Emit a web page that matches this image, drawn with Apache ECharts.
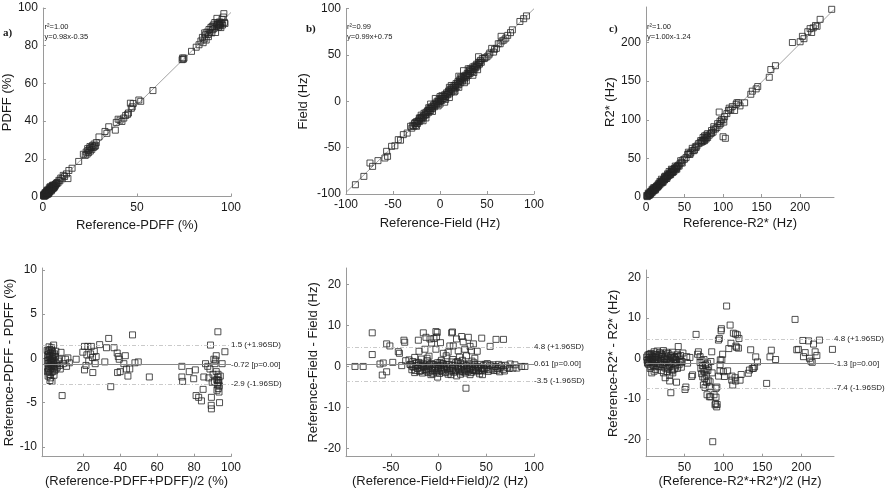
<!DOCTYPE html>
<html>
<head>
<meta charset="utf-8">
<script src="https://cdn.jsdelivr.net/npm/echarts@6/dist/echarts.min.js"></script>
<style>html,body{margin:0;padding:0;background:#fff;}#c{width:888px;height:496px;}</style>
</head>
<body>
<div id="c"></div>
<script>
// ---------- DATA ----------
// a) PDFF correlation: [Reference-PDFF, PDFF]
const pdffCorr = [
[0.5,0.3],[0.8,0.6],[1.0,0.9],[1.2,1.4],[1.5,1.0],[1.6,1.8],[1.8,1.3],[2.0,2.2],[2.1,1.5],[2.3,2.8],[2.5,1.9],[2.6,2.4],[2.8,3.1],[3.0,2.2],[3.1,2.9],[3.3,3.6],[3.5,2.7],[3.6,3.3],[3.8,4.1],[4.0,3.2],[4.1,3.8],[4.3,4.5],[4.5,3.6],[4.7,4.4],[4.9,5.0],[5.1,4.2],[5.3,4.9],[5.5,5.6],[5.8,4.9],[6.0,5.6],[6.3,6.2],[6.6,5.8],[0.6,1.2],[1.3,0.5],[2.2,3.3],[3.4,4.6],[1.9,0.9],[2.9,1.6],[4.4,2.9],[0.4,0.9],[1.1,2.0],[2.7,1.2],[3.9,5.2],[5.0,5.9],[5.6,4.4],
[0.3,0.5],[0.7,0.2],[1.4,1.9],[1.7,1.1],[2.4,2.0],[2.0,2.7],[3.2,2.5],[3.7,3.0],[4.2,4.9],[4.6,4.0],[5.2,5.3],[5.7,5.2],[6.2,5.0],[6.8,6.6],[7.2,6.9],[1.0,0.3],[2.6,3.5],[3.3,2.0],[4.8,3.7],[5.4,6.0],
[7.0,6.5],[7.5,7.4],[8.0,7.2],[8.5,8.6],[9.0,8.3],[9.5,9.8],[10.2,9.4],[10.8,11.2],[11.5,10.6],[12.5,12.0],[13.3,9.5],[13.8,13.8],[15.5,15.0],[19.0,18.6],[21.5,22.4],
[22.5,21.8],[23.0,23.6],[23.5,22.5],[24.0,24.4],[24.3,23.3],[24.8,25.2],[25.2,24.1],[25.6,26.0],[26.0,25.0],[26.3,27.0],[26.8,26.0],[27.2,27.8],[27.5,26.5],[28.0,27.0],[28.4,28.6],[25.0,26.5],[23.8,25.4],
[29.8,31.6],[33.0,34.5],[34.0,33.5],[35.0,37.0],[38.5,35.2],[39.0,39.3],[40.0,41.0],[41.0,40.5],[42.0,39.8],[43.0,41.6],[44.0,43.0],[45.0,43.6],[45.5,44.3],[46.5,49.5],[47.0,46.8],[47.5,47.6],[48.0,49.3],[51.0,51.2],[52.0,50.5],[58.5,56.2],
[74.0,72.6],[74.3,73.5],[74.6,72.8],[75.0,73.4],[79.0,77.0],[81.5,79.2],[83.0,80.5],
[84.0,82.5],[84.8,84.4],[85.2,81.6],[85.8,83.6],[86.4,85.8],[86.8,83.0],[87.2,87.2],[87.8,86.0],[88.3,88.6],[88.8,87.0],[89.3,89.7],[89.8,86.8],[90.3,88.5],[90.6,91.0],[91.0,89.2],[91.4,92.3],[91.8,87.0],[92.2,90.4],[92.6,91.5],[93.0,92.0],[93.3,89.8],[93.6,91.2],[93.9,92.6],[94.2,90.5],[94.5,91.8],[94.8,92.2],[95.2,94.0],[95.5,91.0],[95.9,95.2],[96.2,97.0],[96.5,92.4],[96.8,91.8],[92.5,94.5],[90.0,90.2],[88.0,84.8],[86.0,86.8],[93.8,90.8],[94.6,89.6],[92.9,91.1]
];
// a) PDFF Bland-Altman: [mean, difference]
const pdffBA = [
[0.6,-0.3],[0.8,0.4],[0.9,-1.0],[1.0,0.1],[1.1,-0.6],[1.2,0.8],[1.3,-1.4],[1.4,-0.2],[1.5,0.5],[1.6,-0.9],[1.7,-1.8],[1.8,0.2],[1.9,-0.5],[2.0,1.0],[2.1,-1.2],[2.2,-0.1],[2.3,-2.2],[2.4,0.6],[2.5,-0.7],[2.6,-1.6],[2.7,0.3],[2.8,-0.4],[2.9,1.2],[3.0,-1.0],[3.1,-2.6],[3.2,0.0],[3.3,-0.8],[3.4,0.7],[3.5,-1.5],[3.6,-0.3],[3.7,0.4],[3.8,-1.1],[3.9,-0.6],[4.0,1.5],[4.1,-0.2],[4.2,-1.9],[4.4,0.5],[4.6,-0.9],[4.8,-0.4],[5.0,0.2],[5.3,-1.2],[5.6,-0.6],[1.0,-2.0],[1.5,1.3],[2.0,-2.5],[0.7,-1.5],[3.0,0.9],[6.0,-1.0],[6.5,-0.3],[0.5,0.9],[1.2,-1.2],[2.5,-0.3],[3.5,0.2],[4.5,-1.4],[5.2,0.8],
[6.8,-0.1],[7.2,-0.8],[8.0,0.68],[7.6,-1.2],[8.6,-4.2],[9.2,-0.6],[10.4,-0.1],[11.0,-0.9],[11.7,0.05],[12.5,-0.5],[16.2,-0.1],
[19.8,0.7],[20.7,1.35],[22.5,1.35],[24.4,1.35],[20.7,-1.3],[25.2,-1.6],[23.0,-0.3],[24.0,0.5],[25.0,0.1],[26.0,0.8],[22.0,0.4],[26.5,-0.6],[21.5,-0.8],[27.0,0.2],
[28.9,1.55],[31.7,-0.4],[32.6,1.2],[33.8,2.25],[34.9,-3.2],[36.7,1.2],[38.4,0.6],[39.0,0.2],[39.5,-0.1],[38.6,-1.6],[40.0,-1.5],[42.0,-0.6],[42.8,0.3],[43.4,-1.2],[45.2,-1.2],[44.2,-2.0],[46.7,2.65],[48.0,-0.5],[49.8,-0.4],[55.8,-2.1],
[73.4,-0.9],[73.4,-2.1],[73.8,-2.6],[77.4,-1.5],[79.8,-2.3],[80.7,-1.3],[81.1,-4.2],[82.5,-4.4],[84.0,-4.8],[84.9,-3.5],[85.3,-2.1],[86.2,-0.6],[87.4,-0.9],[88.0,-2.2],[88.6,-1.2],[89.8,-2.7],[88.9,1.5],[89.4,-4.4],[89.3,-5.3],[89.4,-5.7],[90.7,-0.1],[91.3,-0.6],[91.7,-0.2],[92.0,0.3],
[92.0,-1.5],[92.3,-2.4],[92.6,-3.0],[92.9,-2.1],[93.1,-3.4],[93.3,-2.7],[93.5,-3.8],[93.7,-3.1],[92.4,-3.6],[92.8,-2.8],[93.0,-1.8],[93.4,-2.5],[92.9,3.0],[93.8,-5.0],[95.2,-0.6],[96.7,0.75],[94.2,-2.0],[91.0,-2.6],[90.3,-1.8]
];
// b) Field correlation: [Reference-Field, Field]
const fieldCorr = [
[-90,-90],[-81,-81],[-74.5,-66.6],[-71.7,-70.2],[-66,-64],[-58.6,-61.2],[-56.8,-54],[-55.8,-59.4],[-51.5,-48.6],[-48,-48],[-44.4,-41.4],[-42,-42],[-39,-36],[-34.9,-34.3],[-31.3,-27],[-30,-29],
[-28,-27],[-27,-24],[-26,-26],[-25,-22],[-24,-24],[-23,-21],[-22,-22],[-21,-18],[-20,-20],[-19,-17],[-18,-18],[-17,-13],[-16,-15],[-15,-12],[-14,-14],[-13,-10],[-12,-12],[-11,-8],[-10,-10],[-9,-6],[-8,-8],[-7,-4],[-6,-6],[-5,-2],[-4,-4],[-3,0],[-2,-2],[-1,2],[0,0],[1,3],[2,1],[3,5],[4,3],[5,7],[6,5],[7,9],[8,7],[9,11],[10,8],[11,13],[12,10],[13,15],[14,12],[15,17],[16,14],[17,19],[18,16],[19,21],[20,18],[21,23],[22,20],[23,25],[24,22],[25,27],[26,24],[27,28],[28,26],[29,30],[30,28],[31,33],[32,30],[33,34],[34,32],[35,37],[36,34],[37,38],[38,36],[39,40],[40,38],[41,42],[42,40],[43,44],[44,42],[45,46],
[-29,-26],[-26.5,-23],[-23.5,-22],[-21.5,-19],[-19.5,-18],[-17.5,-16],[-15.5,-14],[-13.5,-11],[-11.5,-10],[-9.5,-8],[-7.5,-6],[-5.5,-4],[-3.5,-2],[-1.5,0],[0.5,1],[2.5,3],[4.5,5],[6.5,7],[8.5,9],[10.5,11],[12.5,13],[14.5,15],[16.5,17],[18.5,19],[20.5,21],[22.5,23],[24.5,25],[26.5,26],[28.5,28],[30.5,30],[32.5,32],[34.5,34],[36.5,36],[38.5,38],[40.5,40],[42.5,42],
[-5,3],[0,5],[10,15],[20,27],[25,33],[-20,-15],[35,28],[40,34],[15,10],[5,-1],[-10,-3],[20,15],[28,22],[0,-3],[-15,-18],[10,4],[32,35],[41,48],[-25,-27],[-18,-21],[-8,-11],[-2,-5],[6,2],[16,11],[26,20],[36,31],[-22,-18],[-12,-7],[2,6],[12,17],[22,26],[30,35],
[47,46],[48,47],[50,48],[52,50],[53,52],[55,57],[57,53],[58,56],[60,57],[62,62],[64,62],[65,70],[66,65],[68,66],[70,68],[72,71],[75,74],[77,77],[85,86],[89,89],[92,92]
];
// b) Field Bland-Altman: [mean, difference]
const fieldBA = [
[-87.6,0.0],[-79,0.0],[-69.5,8.2],[-69.5,2.9],[-61.4,0.6],[-59,-2.1],[-58,0.85],[-54.4,5.5],[-54.4,-1.3],[-51,5.0],[-48,1.0],[-42.2,3.6],[-41,3.2],[-38.6,0.2],[-36.3,6.4],[-35.5,5.9],[-34.5,1.4],[-31,1.6],[-29,0.4],[-20.5,3.7],[-21.2,6.4],[-16,8.2],[-14.3,4.2],[-13.2,7.1],[-9,6.7],[-7.3,5.7],[-4.9,6.8],[-2.8,8.5],[-1.4,8.3],[-2.1,7.2],[-2.8,4.2],[-1,-2.6],[5,3.2],[8,2.6],[11.8,5.0],[13.7,8.2],[15.4,5.0],[14.6,8.4],[18.8,6.7],[20.6,3.8],[24.2,7.3],[25.8,6.0],[27.5,4.2],[29.3,2.6],[31.2,7.1],[33,4.9],[34.5,3.8],[36.5,5.5],[40.5,3.7],[45.2,6.9],[54,4.9],[60.2,6.6],[68,6.6],[28.7,-5.3],[-25,2.2],[-18,1.8],[-10,2.5],[2,5.8],[10,3.5],[22,2.3],[38,2.0],
[-30,0.5],[-28,-0.8],[-27,1.2],[-25,-1.5],[-24,0.2],[-22,-0.5],[-21,1.0],[-20,-1.2],[-19,0.6],[-18,-0.2],[-17,-1.6],[-16,0.8],[-15,-0.7],[-14,0.3],[-13,-1.1],[-12,1.4],[-11,-0.4],[-10,0.1],[-9,-1.3],[-8,0.7],[-7,-0.6],[-6,-1.8],[-5,0.4],[-4,-0.9],[-3,0.0],[-2,-1.4],[-1,0.9],[0,-0.5],[1,-1.7],[2,0.2],[3,-0.8],[4,-1.2],[5,0.6],[6,-0.3],[7,-1.5],[8,0.1],[9,-0.7],[10,-1.9],[11,0.5],[12,-0.4],[13,-1.0],[14,1.1],[15,-0.2],[16,-1.4],[17,0.3],[18,-0.9],[19,-2.3],[20,0.0],[21,-0.6],[22,-1.3],[23,0.8],[24,-0.1],[25,-1.1],[26,0.4],[27,-0.8],[28,-1.6],[29,0.2],[30,-0.5],[31,-1.2],[32,0.6],[33,-0.3],[34,-1.5],[35,0.1],[36,-0.7],[37,-1.0],[38,0.4],[39,-0.2],[40,-1.3],[41,0.0],[42,-0.6],[43,-1.8],[44,0.5],[45,-0.4],[46,-1.1],[47,0.2],[48,-0.8],[50,-0.3],[52,-1.2],[54,0.3],[56,-0.6],[58,-1.0],[60,0.0],[62,-0.5],[64,-1.3],[66,0.2],[68,-0.7],[70,0.3],[72,-0.2],[75,0.6],[78,-0.4],[80,0.4],[82,-0.4],[87,0.0],[90.5,0.0],
[-26,-0.2],[-23,0.9],[-17,0.1],[-11,-1.5],[-6,0.5],[-1,-0.9],[4,0.7],[9,-0.1],[13,-2.0],[18,0.9],[23,-1.9],[27,0.6],[33,-2.0],[37,0.9],[42,-1.0],[46,-2.0],[51,0.7],[57,-0.1],[63,0.5],[3,1.5],[-8,-2.0],[15,1.7],[25,1.5],[35,1.3],
[-27.5,0.0],[-24.5,-1.0],[-21.5,0.3],[-18.5,-1.0],[-15.5,0.0],[-12.5,-0.8],[-9.5,0.4],[-6.5,-1.0],[-3.5,-0.3],[-0.5,0.3],[2.5,-1.0],[5.5,-0.4],[8.5,0.5],[11.5,-1.3],[14.5,-0.6],[17.5,-1.1],[20.5,-0.3],[23.5,-0.8],[26.5,-1.3],[29.5,-0.9],[32.5,-0.7],[35.5,-1.0],[38.5,-0.9],[41.5,-0.3],[44.5,-1.0],[47.5,-0.5],[49,0.5],[53,-0.8],[57,0.4],[61,-0.9],[65,-0.2],[69,-1.1],[74,-0.5],[1.5,1.0],[-12,2.0],[20,1.2]
];
// c) R2* correlation: [Reference-R2*, R2*]
const r2Corr = [
[2,1],[3,3],[4,2],[5,5],[6,4],[7,7],[8,6],[9,9],[10,8],[11,11],[12,10],[13,13],[14,12],[15,15],[16,14],[17,17],[18,16],[19,19],[20,18],[21,21],[22,20],[23,23],[24,22],[25,25],[26,24],[27,27],[28,26],[29,29],[30,28],[31,31],[32,30],[33,33],[34,32],[35,35],[36,33],[37,37],[38,35],[39,38],[40,39],[41,40],[42,41],[44,43],[46,45],[48,48],[50,49],[52,51],[54,55],[56,56],[58,57],[60,60],[62,60],[64,65],[66,66],[70,70],[72,71],[73,73],[74,72],[75,74],[76,73],[77,76],[78,75],[79,78],[80,77],[82,80],[84,82],[85,86],[87,84],[88,88],[90,88],[92,90],[93,95],[95,93],[96,98],[97,95],[98,100],[100,100],[101,97],[102,104],[95,110],[100,78],[103,76],[105,108],[107,112],[108,115],[110,113],[112,117],[115,112],[117,120],[118,122],[120,122],[122,118],[128,122],[136,133],[138,137],[143,140],[145,143],[160,155],[162,165],[168,170],[190,200],[200,201],[203,208],[205,205],[210,214],[213,218],[215,213],[217,219],[220,222],[222,221],[226,230],[241,243],
[3,5],[5,3],[8,10],[10,12],[12,9],[15,13],[18,20],[20,23],[22,19],[25,27],[27,24],[30,33],[32,29],[35,32],[33,36],[38,40],[40,36],[43,40],[45,47],[47,44],[55,58],[57,55],[60,63],[63,61],[65,64],[68,69],[71,73],[74,77],[76,79],[78,80],[80,82],[85,83],[88,91],[1,2],[6,7],[16,17],[24,26],[28,30],[34,35],
[1.5,0.5],[2.5,2],[3.5,4],[4.5,3.5],[5.5,6],[6.5,5],[7.5,8],[8.5,7.5],[9.5,10],[10.5,9],[11.5,12],[12.5,11],[13.5,14],[14.5,13.5],[16.5,15],[18.5,18],[20.5,19.5],[22.5,22],[24.5,23],[26.5,26],[28.5,27.5],[30.5,29],[32.5,32],[34.5,33],[36.5,36],[39.5,37]
];
// c) R2* Bland-Altman: [mean, difference]
const r2BA = [
[2,-0.5],[3,0.8],[4,-1.5],[5,0.2],[6,-2.5],[7,1.2],[8,-0.8],[8,-3.6],[9,0.5],[10,-1.8],[11,1.6],[12,-0.3],[13,-2.8],[14,0.9],[15,-1.2],[16,0.1],[17,-2.1],[18,1.4],[19,-0.6],[20,-3.0],[21,0.5],[22,-1.5],[23,1.9],[24,-0.2],[25,-2.4],[25.2,-4.8],[26,0.8],[27,-1.0],[28,-3.3],[29,1.2],[30,-0.5],[31,-2.0],[31,-4.2],[31,-5.6],[32,0.6],[32.5,-8.5],[33,-1.4],[34,-3.1],[35,1.5],[36,-0.2],[37,-2.6],[38,0.4],[39,-1.7],[39.8,-5.9],[40,-0.9],[41,1.0],[42,2.9],[43,-1.6],[44,-0.4],[45,0.7],[46,-2.2],[47,-0.8],[48,1.3],
[3,-1.0],[5,1.0],[7,-2.0],[9,-0.2],[11,-3.2],[13,0.3],[15,1.8],[17,-0.9],[19,-1.9],[21,1.0],[23,-3.6],[25,0.0],[27,1.5],[29,-2.2],[31,-1.0],[33,0.8],[35,-2.8],[37,0.2],[39,-0.4],[41,-2.5],[43,0.4],[45,-1.1],
[1.5,0.3],[2.5,-1.2],[3.5,-0.3],[4.5,0.9],[5.5,-0.9],[6.5,-0.1],[7.5,0.6],[8.5,-1.4],[10.5,0.2],[12.5,-1.1],[14.5,-0.3],[16.5,0.7],[18.5,-1.4],[20.5,-0.6],[22.5,0.4],[24.5,-1.1],[26.5,-0.3],[28.5,0.3],[30.5,-1.6],[32.5,-0.7],[34.5,0.2],[36.5,-1.2],[38.5,-0.3],[40.5,0.5],[15,-2.0],[28,-2.6],[35,-3.6],[20,1.1],[12,1.0],
[50.7,-7.7],[51.8,-7.1],[52.9,0.4],[54,-1.2],[57,0.2],[59.3,-4.5],[60.4,-4.1],[64.9,5.9],[66.8,1.0],[67.9,1.6],[70,0.4],
[70,-1.0],[71,-2.5],[72,-3.8],[72.5,-0.6],[73,-1.8],[73.5,-4.6],[74,-2.8],[74.3,-6.6],[75,-0.3],[75.5,-3.3],[76,-5.0],[76.4,-7.2],[77,-1.6],[77.5,-2.6],[78,-4.2],[78.5,-6.0],[79,-9.0],[79.5,-1.2],[80,-3.0],[80.5,-5.4],[81,-2.0],[82,-7.0],[82.9,-5.8],[83.7,-9.5],[82,-9.5],[84,-0.8],[85,1.6],[85.5,-3.6],
[86.3,-20.6],[88,-9.0],[89.3,-11.5],[89.7,-11.2],[91.4,-12],[92,-11.4],[90.5,-9.6],[90.5,-7.4],[91.6,-7.1],[93.8,-4.4],[93.6,4.5],[94.8,4.9],[95.7,-1.6],[95.6,-3.1],[96,-0.4],[97,6.8],[97.4,7.3],[98,-0.4],[99,1.0],[100,-3.3],[101.3,-4.5],[104.1,12.9],[105.4,-3.1],[106.9,2.4],[108.6,8.2],[109.7,3.7],[110.7,-5.4],[111,-4.4],[112,-6.6],[112.8,6.2],[115,-4.8],[115.5,6.0],[115.8,-5.6],[116,3.0],[117,2.7],[117.8,5.8],[119.3,2.5],[120,4.9],[121.4,-5.4],[122.8,-4.0],
[132,-3.7],[133.4,-2.9],[135,2.1],[137,-2.5],[138.5,-2.5],[140,-2.1],[141.5,0.35],[143.7,-0.9],[155.5,-6.2],[159.8,0.35],[161.5,2.0],[167,-0.3],
[192,9.6],[194.2,2.1],[196.3,2.2],[202,4.4],[202.8,0.4],[205,1.4],[209.3,4.3],[210.5,0.0],[212.2,-0.7],[214,-1.0],[215.7,3.5],[217.8,1.6],[220,0.7],[223.3,4.5],[240,2.2]
];

// regression fits: [slope, intercept]
const fitA = [0.98, -0.35];
const fitB = [0.99, 0.75];
const fitC = [1.00, -1.24];

// Bland-Altman lines: [+1.96SD, mean, -1.96SD]
const baLinesA = [1.5, -0.72, -2.9];
const baLabelsA = ['1.5 (+1.96SD)', '-0.72 [p=0.00]', '-2.9 (-1.96SD)'];
const baLinesB = [4.8, 0.61, -3.5];
const baLabelsB = ['4.8 (+1.96SD)', '0.61 [p=0.00]', '-3.5 (-1.96SD)'];
const baLinesC = [4.8, -1.3, -7.4];
const baLabelsC = ['4.8 (+1.96SD)', '-1.3 [p=0.00]', '-7.4 (-1.96SD)'];

// tick values
const ticksA1x = [0, 50, 100];
const ticksA1y = [0, 20, 40, 60, 80, 100];
const ticksB1 = [-100, -50, 0, 50, 100];
const ticksC1 = [0, 50, 100, 150, 200];
const ticksA2x = [20, 40, 60, 80, 100];
const ticksA2y = [-10, -5, 0, 5, 10];
const ticksB2x = [-50, 0, 50, 100];
const ticksB2y = [-20, -10, 0, 10, 20];
const ticksC2x = [50, 100, 150, 200];
const ticksC2y = [-20, -10, 0, 10, 20];

// ---------- CHART ----------
const FONT = 'Liberation Sans, Arial, sans-serif';
const TXT = '#1a1a1a';
const AX = '#9a9a9a';

function axis(gi, min, max, ticks, name, gap) {
  return {
    type: 'value', gridIndex: gi, min: min, max: max,
    name: name, nameLocation: 'middle', nameGap: gap,
    nameTextStyle: { fontSize: 13, color: TXT, fontFamily: FONT },
    axisLine: { show: true, onZero: false, lineStyle: { color: AX, width: 1 } },
    axisTick: { show: true, inside: true, length: 3, customValues: ticks, lineStyle: { color: AX } },
    axisLabel: { customValues: ticks, fontSize: 12, color: TXT, margin: 5, fontFamily: FONT },
    splitLine: { show: false }
  };
}

function fitLine(fit, x0, x1) {
  return [[x0, fit[0] * x0 + fit[1]], [x1, fit[0] * x1 + fit[1]]];
}

const markerStyle = { color: 'rgba(0,0,0,0)', borderColor: '#262626', borderWidth: 1 };

function scatter(i, data, ba, labels) {
  const s = {
    type: 'scatter', xAxisIndex: i, yAxisIndex: i, data: data,
    symbol: 'rect', symbolSize: 6, itemStyle: markerStyle, silent: true, z: 3
  };
  if (ba) {
    s.markLine = {
      symbol: 'none', silent: true, animation: false,
      label: { position: 'end', distance: 0, fontSize: 8, color: '#222', fontFamily: FONT },
      data: ba.map((v, k) => ({
        yAxis: v,
        label: { formatter: labels[k] },
        lineStyle: k === 1
          ? { type: 'solid', color: '#8a8a8a', width: 1 }
          : { type: [4, 2, 1, 2], color: '#bdbdbd', width: 0.8 }
      }))
    };
  }
  return s;
}

function line(i, data) {
  return {
    type: 'line', xAxisIndex: i, yAxisIndex: i, data: data, symbol: 'none',
    lineStyle: { color: '#8a8a8a', width: 0.8 }, silent: true, z: 2, clip: true
  };
}

function txt(x, y, text, size, bold, serif) {
  return {
    type: 'text', left: x, top: y,
    style: {
      text: text, fontSize: size, fill: TXT,
      fontWeight: bold ? 'bold' : 'normal',
      fontFamily: serif ? 'Liberation Serif, Times New Roman, serif' : FONT,
      verticalAlign: 'middle'
    }
  };
}

const chart = echarts.init(document.getElementById('c'), null, { renderer: 'canvas' });
chart.setOption({
  animation: false,
  backgroundColor: '#fff',
  grid: [
    { left: 42, top: 8, width: 189, height: 188.5 },
    { left: 346, top: 8.5, width: 188, height: 185.5 },
    { left: 646, top: 7, width: 188, height: 190 },
    { left: 42, top: 268, width: 189, height: 188.7 },
    { left: 346, top: 268, width: 188, height: 188.7 },
    { left: 646, top: 270, width: 188, height: 186.7 }
  ],
  xAxis: [
    axis(0, 0, 100, ticksA1x, 'Reference-PDFF (%)', 22),
    axis(1, -100, 100, ticksB1, 'Reference-Field (Hz)', 23),
    axis(2, 0, 244, ticksC1, 'Reference-R2* (Hz)', 20),
    axis(3, -2.3, 100, ticksA2x, '(Reference-PDFF+PDFF)/2 (%)', 18),
    axis(4, -97, 100, ticksB2x, '(Reference-Field+Field)/2 (Hz)', 18),
    axis(5, 0.6, 242, ticksC2x, '(Reference-R2*+R2*)/2 (Hz)', 17)
  ],
  yAxis: [
    axis(0, 0, 100, ticksA1y, 'PDFF (%)', 25),
    axis(1, -100, 100, ticksB1, 'Field (Hz)', 36),
    axis(2, 0, 246, ticksC1, 'R2* (Hz)', 24),
    axis(3, -11.1, 10.2, ticksA2y, 'Reference-PDFF - PDFF (%)', 22),
    axis(4, -22, 24, ticksB2y, 'Reference-Field - Field (Hz)', 22),
    axis(5, -24.3, 21.8, ticksC2y, 'Reference-R2* - R2* (Hz)', 20)
  ],
  series: [
    line(0, fitLine(fitA, 0, 100)),
    scatter(0, pdffCorr),
    line(1, fitLine(fitB, -100, 100)),
    scatter(1, fieldCorr),
    line(2, fitLine(fitC, 0, 244)),
    scatter(2, r2Corr),
    scatter(3, pdffBA, baLinesA, baLabelsA),
    scatter(4, fieldBA, baLinesB, baLabelsB),
    scatter(5, r2BA, baLinesC, baLabelsC)
  ],
  graphic: [
    txt(3, 28, 'a)', 11, true, true),
    txt(44.5, 23, 'r\u00B2=1.00', 7.5),
    txt(44.5, 33, 'y=0.98x-0.35', 7.5),
    txt(306, 24, 'b)', 11, true, true),
    txt(347, 23, 'r\u00B2=0.99', 7.5),
    txt(347, 33, 'y=0.99x+0.75', 7.5),
    txt(609, 24, 'c)', 11, true, true),
    txt(647, 23, 'r\u00B2=1.00', 7.5),
    txt(647, 33, 'y=1.00x-1.24', 7.5)
  ]
});
</script>
</body>
</html>
